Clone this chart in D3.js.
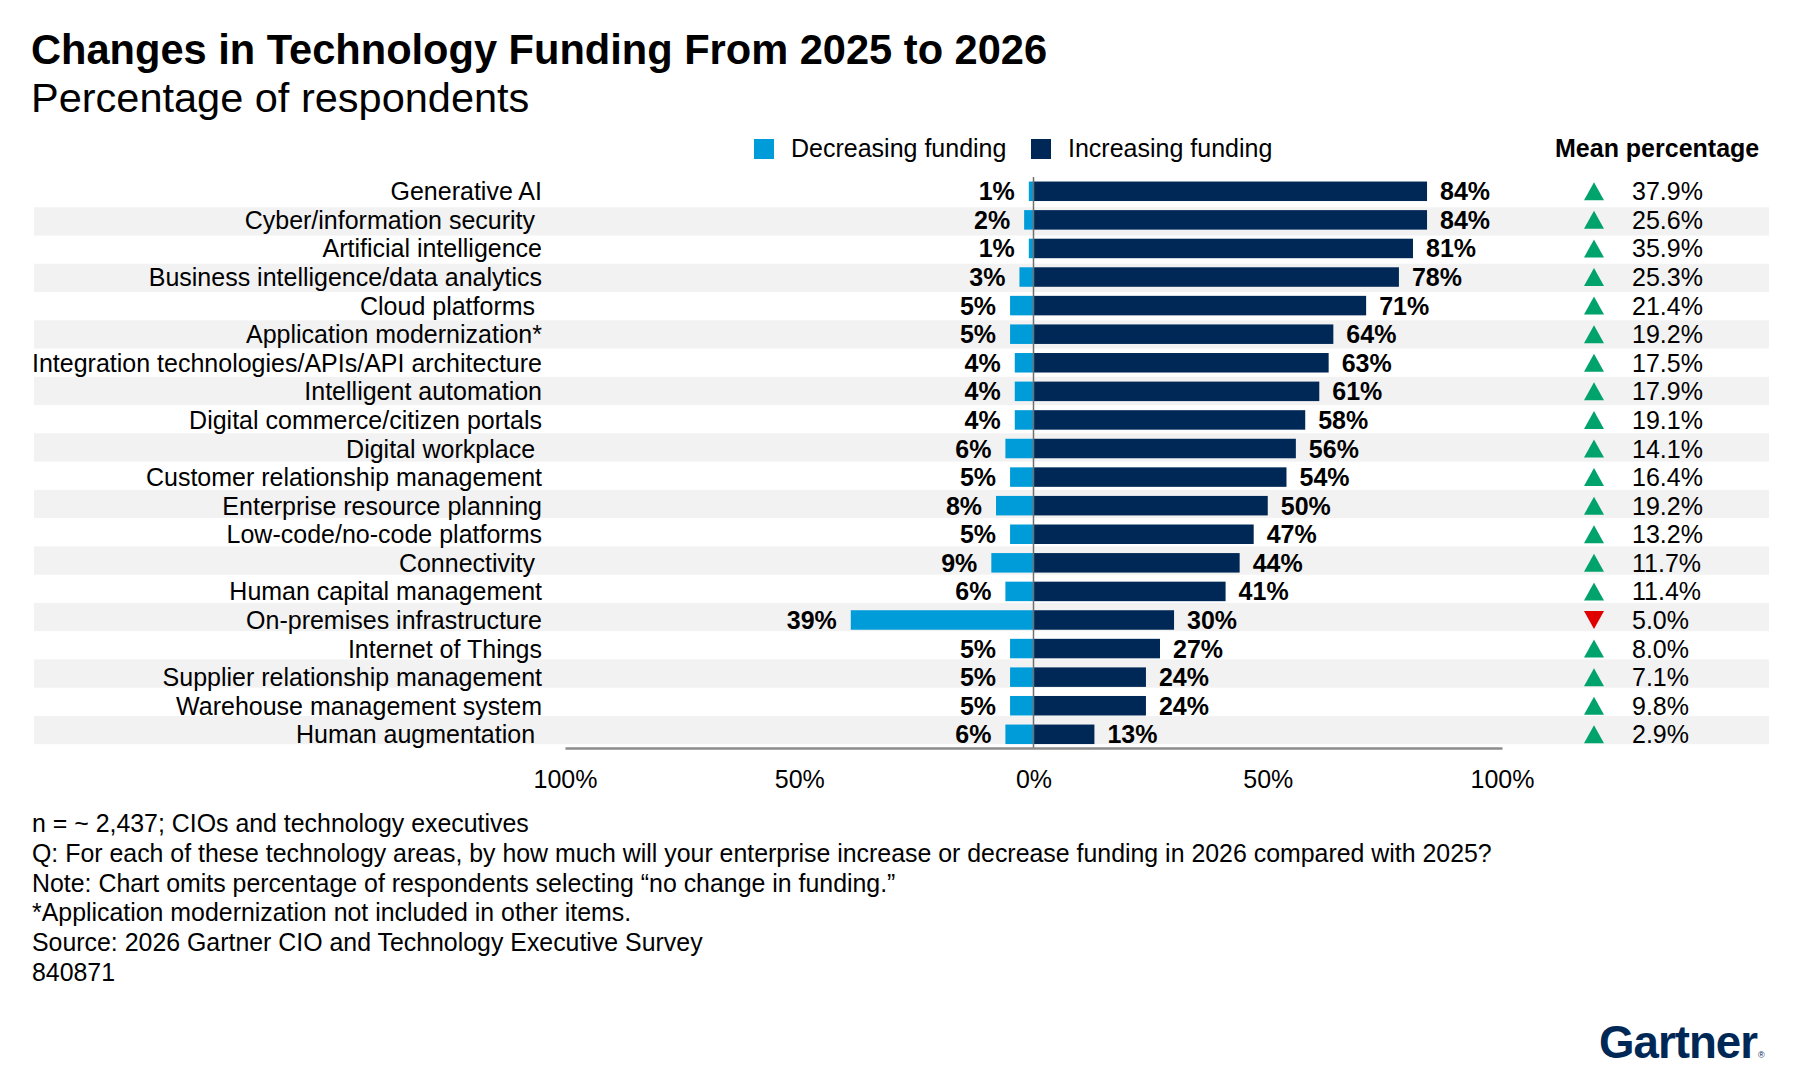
<!DOCTYPE html>
<html>
<head>
<meta charset="utf-8">
<script src="https://cdn.jsdelivr.net/npm/d3@7/dist/d3.min.js"></script>
<style>
  body { margin: 0; background: #fff; }
  svg { display: block; font-family: "Liberation Sans", Arial, sans-serif; }
  text { white-space: pre; }
</style>
</head>
<body>
<div id="chart"></div>
<script>
var categories = [
  "Generative AI",
  "Cyber/information security ",
  "Artificial intelligence",
  "Business intelligence/data analytics",
  "Cloud platforms ",
  "Application modernization*",
  "Integration technologies/APIs/API architecture",
  "Intelligent automation",
  "Digital commerce/citizen portals",
  "Digital workplace ",
  "Customer relationship management",
  "Enterprise resource planning",
  "Low-code/no-code platforms",
  "Connectivity ",
  "Human capital management",
  "On-premises infrastructure",
  "Internet of Things",
  "Supplier relationship management",
  "Warehouse management system",
  "Human augmentation "
];
var decreasing = [1, 2, 1, 3, 5, 5, 4, 4, 4, 6, 5, 8, 5, 9, 6, 39, 5, 5, 5, 6];
var increasing = [84, 84, 81, 78, 71, 64, 63, 61, 58, 56, 54, 50, 47, 44, 41, 30, 27, 24, 24, 13];
var meanPct = [37.9, 25.6, 35.9, 25.3, 21.4, 19.2, 17.5, 17.9, 19.1, 14.1, 16.4, 19.2, 13.2, 11.7, 11.4, -5.0, 8.0, 7.1, 9.8, 2.9];
var tickValues = [-100, -50, 0, 50, 100];
var legendItems = ["Decreasing funding", "Increasing funding"];
var notes = [
  "n = ~ 2,437; CIOs and technology executives",
  "Q: For each of these technology areas, by how much will your enterprise increase or decrease funding in 2026 compared with 2025?",
  "Note: Chart omits percentage of respondents selecting \u201cno change in funding.\u201d",
  "*Application modernization not included in other items.",
  "Source: 2026 Gartner CIO and Technology Executive Survey",
  "840871"
];

var W = 1800, H = 1079;
var colDec = "#009bd9", colInc = "#002856";
var colUp = "#00a36c", colDown = "#e00000";

var svg = d3.select("#chart").append("svg")
  .attr("width", W).attr("height", H);

var x = d3.scaleLinear().domain([-100, 100]).range([565, 1502]);
var y = d3.scaleBand().domain(d3.range(categories.length)).range([177, 748.6]);
// the grey stripes have their own slightly tighter spacing
var stripe = d3.scaleBand().domain(d3.range(categories.length)).range([179, 744.2]);

// title
svg.append("text").attr("x", 31).attr("y", 64)
  .attr("font-size", 41.6).attr("font-weight", "bold").text("Changes in Technology Funding From 2025 to 2026");
svg.append("text").attr("x", 31).attr("y", 112)
  .attr("font-size", 41.5).text("Percentage of respondents");

// stripes
svg.append("g").selectAll("rect")
  .data(d3.range(categories.length).filter(function(i) { return i % 2 == 1; }))
  .enter().append("rect")
  .attr("x", 34).attr("width", 1769 - 34)
  .attr("y", function(i) { return stripe(i); })
  .attr("height", stripe.bandwidth())
  .attr("fill", "#f2f2f2");

// legend
var lg = svg.append("g");
[754, 1031].forEach(function(lx, i) {
  lg.append("rect").attr("x", lx).attr("y", 139).attr("width", 20).attr("height", 20)
    .attr("fill", i == 0 ? colDec : colInc);
  lg.append("text").attr("x", lx + 37).attr("y", 157).attr("font-size", 25).text(legendItems[i]);
});
svg.append("text").attr("x", 1555).attr("y", 157).attr("font-size", 25)
  .attr("font-weight", "bold").text("Mean percentage");

// bars
var barH = 19.5;
var rows = svg.append("g").selectAll("g")
  .data(categories).enter().append("g")
  .attr("transform", function(d, i) { return "translate(0," + (y(i) + y.bandwidth() / 2) + ")"; });

rows.append("rect")
  .attr("x", function(d, i) { return x(-decreasing[i]); })
  .attr("y", -barH / 2)
  .attr("width", function(d, i) { return x(0) - x(-decreasing[i]); })
  .attr("height", barH)
  .attr("fill", colDec);

rows.append("rect")
  .attr("x", x(0))
  .attr("y", -barH / 2)
  .attr("width", function(d, i) { return x(increasing[i]) - x(0); })
  .attr("height", barH)
  .attr("fill", colInc);

rows.append("text")
  .attr("x", 542).attr("y", 9)
  .attr("text-anchor", "end").attr("font-size", 25)
  .text(function(d) { return d; });

rows.append("text")
  .attr("x", function(d, i) { return x(-decreasing[i]) - 14; })
  .attr("y", 9).attr("text-anchor", "end")
  .attr("font-size", 25).attr("font-weight", "bold")
  .text(function(d, i) { return decreasing[i] + "%"; });

rows.append("text")
  .attr("x", function(d, i) { return x(increasing[i]) + 13; })
  .attr("y", 9)
  .attr("font-size", 25).attr("font-weight", "bold")
  .text(function(d, i) { return increasing[i] + "%"; });

// mean percentage column
rows.append("path")
  .attr("d", function(d, i) {
    var cx = 1594, w = 10, h = 9;
    if (meanPct[i] >= 0) return "M" + (cx - w) + "," + h + "L" + (cx + w) + "," + h + "L" + cx + "," + (-h) + "Z";
    return "M" + (cx - w) + "," + (-h) + "L" + (cx + w) + "," + (-h) + "L" + cx + "," + h + "Z";
  })
  .attr("fill", function(d, i) { return meanPct[i] >= 0 ? colUp : colDown; });

rows.append("text")
  .attr("x", 1632).attr("y", 9).attr("font-size", 25)
  .text(function(d, i) { return Math.abs(meanPct[i]).toFixed(1) + "%"; });

// zero line + bottom axis
svg.append("line")
  .attr("x1", x(0)).attr("x2", x(0)).attr("y1", 177).attr("y2", 748)
  .attr("stroke", "#6f6f6f").attr("stroke-width", 1.5);

var axis = d3.axisBottom(x).tickValues(tickValues).tickSize(0).tickPadding(22)
  .tickFormat(function(d) { return Math.abs(d) + "%"; });
var ax = svg.append("g").attr("transform", "translate(0,748)").call(axis);
ax.select(".domain").attr("stroke", "#8c8c8c").attr("stroke-width", 2.5);
ax.selectAll("text").attr("font-size", 25).attr("fill", "#000")
  .attr("font-family", "\"Liberation Sans\", Arial, sans-serif");

// notes
svg.append("g").selectAll("text").data(notes).enter().append("text")
  .attr("x", 32).attr("y", function(d, i) { return 832 + i * 29.8; })
  .attr("font-size", 24.9)
  .text(function(d) { return d; });

// logo
svg.append("text").attr("x", 1599).attr("y", 1058)
  .attr("font-size", 46).attr("font-weight", "bold").attr("fill", "#002856")
  .attr("textLength", 158).attr("lengthAdjust", "spacingAndGlyphs")
  .attr("letter-spacing", -1).text("Gartner");
svg.append("text").attr("x", 1758).attr("y", 1058)
  .attr("font-size", 9).attr("fill", "#002856").text("\u00ae");
</script>
</body>
</html>
